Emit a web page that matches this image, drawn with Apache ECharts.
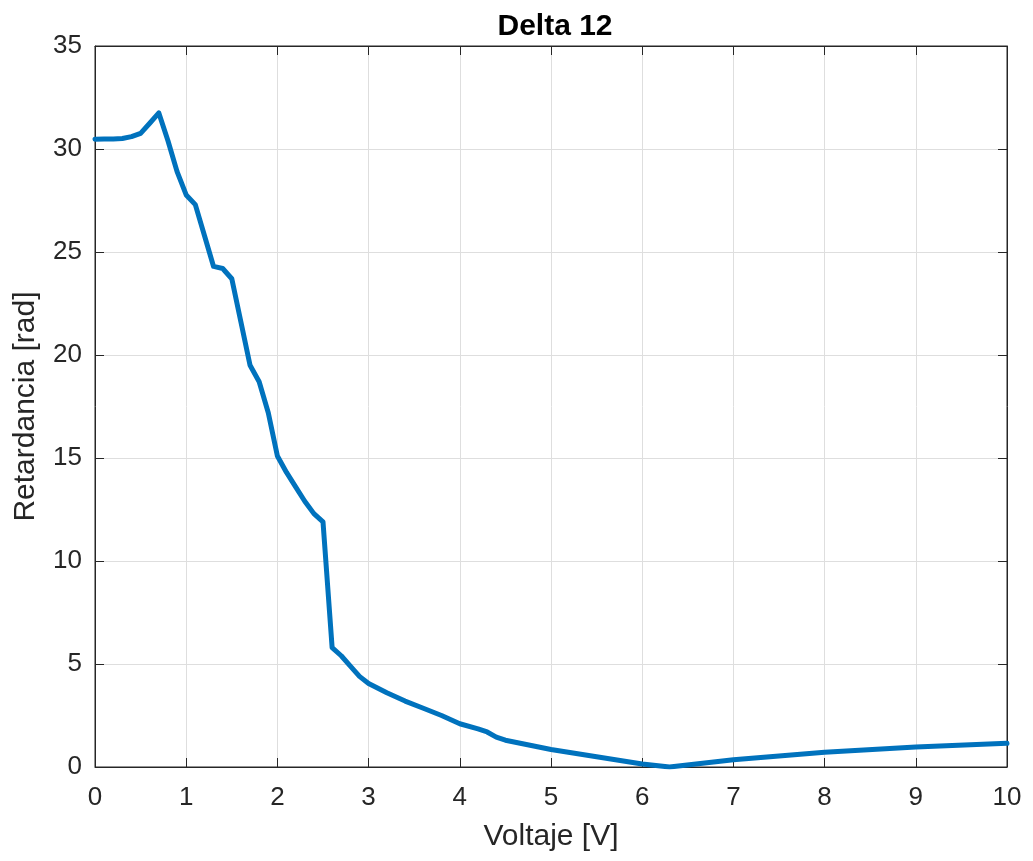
<!DOCTYPE html>
<html><head><meta charset="utf-8">
<script src="https://cdn.jsdelivr.net/npm/echarts@6/dist/echarts.min.js"></script>
<style>html,body{margin:0;padding:0;background:#fff}#c{width:1033px;height:861px}</style>
</head><body><div id="c"></div>
<script>
const voltage = [0,0.1,0.2,0.3,0.4,0.5,0.6,0.7,0.8,0.9,1.0,1.1,1.2,1.3,1.4,1.5,1.6,1.7,1.8,1.9,2.0,2.1,2.2,2.3,2.4,2.5,2.6,2.7,2.8,2.9,3.0,3.2,3.4,3.6,3.8,4.0,4.2,4.3,4.4,4.5,5.0,5.5,6.0,6.3,7.0,8.0,9.0,10.0];
const retardance = [30.47,30.48,30.49,30.51,30.6,30.76,31.25,31.75,30.4,28.9,27.77,27.3,25.8,24.3,24.2,23.7,21.6,19.5,18.7,17.2,15.1,14.3,13.6,12.9,12.3,11.9,5.8,5.4,4.9,4.4,4.05,3.6,3.2,2.85,2.5,2.1,1.85,1.7,1.45,1.3,0.85,0.5,0.15,0.0,0.35,0.72,0.97,1.15];
const titleText = 'Delta 12';
const xName = 'Voltaje [V]';
const yName = 'Retardancia [rad]';

const font = 'Liberation Sans, Arial, Helvetica, sans-serif';
const axisCol = '#262626';
const chart = echarts.init(document.getElementById('c'), null, {renderer:'canvas'});
function secAx(pos, min, max, interval){
  return {type:'value', min:min, max:max, interval:interval, position:pos, show:true,
    axisLabel:{show:false}, splitLine:{show:false},
    axisLine:{show:true, onZero:false, lineStyle:{color:axisCol, width:1}},
    axisTick:{show:true, inside:true, length:9, lineStyle:{color:axisCol}}};
}
chart.setOption({
  animation:false,
  title:{text:titleText, left:550, top:7, textAlign:'center', textStyle:{fontFamily:font, fontSize:30, fontWeight:'bold', color:'#000'}},
  grid:{left:95, right:26, top:46, bottom:94, show:true, borderColor:axisCol, borderWidth:1, backgroundColor:'transparent'},
  xAxis:[{
    type:'value', min:0, max:10, interval:1, position:'bottom',
    name:xName, nameLocation:'middle', nameGap:55,
    nameTextStyle:{fontFamily:font, fontSize:30, color:axisCol},
    axisLine:{show:true, onZero:false, lineStyle:{color:axisCol, width:1}},
    axisTick:{show:true, inside:true, length:9, lineStyle:{color:axisCol}},
    axisLabel:{fontFamily:font, fontSize:26, color:axisCol, margin:18},
    splitLine:{show:true, lineStyle:{color:'#dedede', width:1}}
  }, secAx('top',0,10,1)],
  yAxis:[{
    type:'value', min:0, max:35, interval:5, position:'left',
    name:yName, nameLocation:'middle', nameGap:54,
    nameTextStyle:{fontFamily:font, fontSize:30, color:axisCol},
    axisLine:{show:true, onZero:false, lineStyle:{color:axisCol, width:1}},
    axisTick:{show:true, inside:true, length:9, lineStyle:{color:axisCol}},
    axisLabel:{fontFamily:font, fontSize:26, color:axisCol, margin:13},
    splitLine:{show:true, lineStyle:{color:'#dedede', width:1}}
  }, secAx('right',0,35,5)],
  series:[{
    type:'line', xAxisIndex:0, yAxisIndex:0,
    data: voltage.map((v,i)=>[v, retardance[i]]),
    showSymbol:false, symbol:'none',
    lineStyle:{color:'#0072BD', width:5, join:'round', cap:'round'},
    z:3
  }]
});
</script></body></html>
